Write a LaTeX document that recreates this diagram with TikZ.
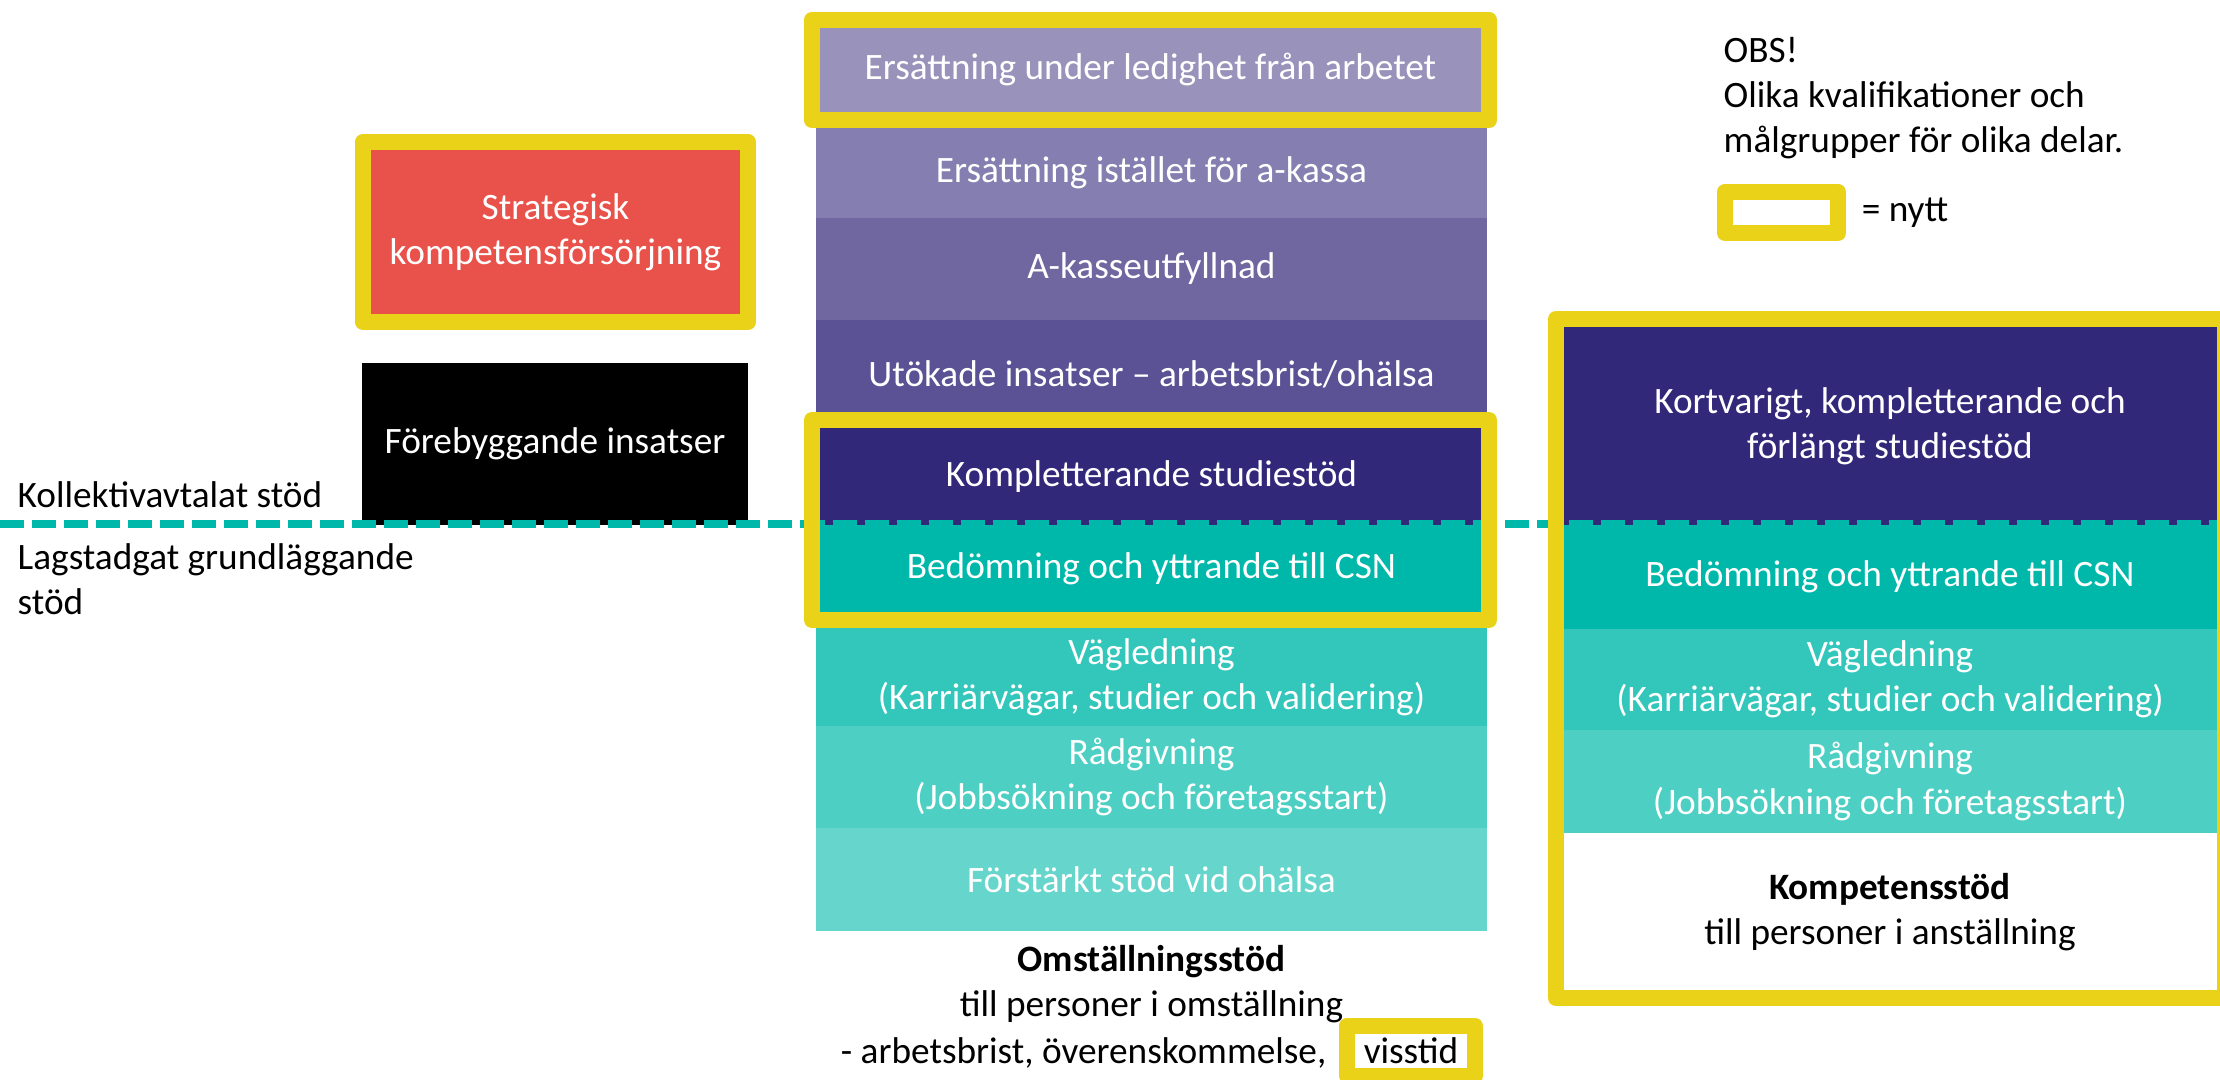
\documentclass[tikz,border=0pt]{standalone}
\usepackage{fontspec}
\setmainfont{Carlito}
\usepackage{tikz}
\usetikzlibrary{positioning}
\usepackage{xcolor}
\definecolor{nyttgul}{HTML}{E9D217}
\definecolor{lila1}{HTML}{9993BB}
\definecolor{lila2}{HTML}{847FB0}
\definecolor{lila3}{HTML}{7067A0}
\definecolor{lila4}{HTML}{5B5295}
\definecolor{indigo}{HTML}{32287A}
\definecolor{turkos1}{HTML}{00B8AA}
\definecolor{turkos2}{HTML}{33C6BB}
\definecolor{turkos3}{HTML}{4DCFC3}
\definecolor{turkos4}{HTML}{66D6CC}
\definecolor{rod}{HTML}{E9524A}

\begin{document}
\begin{tikzpicture}[x=0.01cm, y=-0.01cm, font=\fontsize{10.6}{12.8}\selectfont,
    row/.style={rectangle, inner sep=0pt, text=white, align=center},
    mitt/.style={row, minimum width=6.71cm},
    hoger/.style={row, minimum width=6.54cm},
    newframe/.style={draw=nyttgul, line width=0.16cm, line join=round},
    lbl/.style={inner sep=0pt, align=left},
    avtalslinje/.style={draw=turkos1, line width=0.08cm, dash pattern=on 0.24cm off 0.08cm}]
    \useasboundingbox (0, 0) rectangle (2220, 1080);

    \node[mitt, fill=lila2, minimum height=0.9cm] (akassa) at (1151.5, 173) {Ersättning istället för a-kassa};
    \node[mitt, fill=lila3, minimum height=1.02cm] (utfyllnad) at (1151.5, 269) {A-kasseutfyllnad};
    \node[mitt, fill=lila4, minimum height=1.08cm] (utokade) at (1151.5, 374) {Utökade insatser -- arbetsbrist/ohälsa};
    \node[mitt, fill=indigo, minimum height=0.97cm] (kompl) at (1151.5, 476.5) {Kompletterande studiestöd};
    \node[mitt, fill=turkos1, minimum height=0.88cm] (csn) at (1151.5, 569) {Bedömning och yttrande till CSN};
    \node[mitt, fill=turkos2, minimum height=0.98cm] (vagl) at (1151.5, 677) {Vägledning\\(Karriärvägar, studier och validering)};
    \node[mitt, fill=turkos3, minimum height=1.02cm] (radg) at (1151.5, 777) {Rådgivning\\(Jobbsökning och företagsstart)};
    \node[mitt, fill=turkos4, minimum height=1.03cm] (forstarkt) at (1151.5, 879.5) {Förstärkt stöd vid ohälsa};
    \node[row, newframe, fill=lila1, minimum width=6.77cm, minimum height=1cm] (ledighet) at (1150.5, 70) {Ersättning under ledighet från arbetet};

    \node[lbl, align=center, anchor=base] (omst) at (1151.5, 1017) {\textbf{Omställningsstöd}\\till personer i omställning};
    \node[newframe, fill=white, inner sep=0pt, minimum width=1.28cm, minimum height=0.5cm] (visstid) at (1411, 1051) {visstid};
    \node[lbl, anchor=base east, xshift=-0.12cm] (orsak) at (visstid.base west) {- arbetsbrist, överenskommelse,};

    \node[row, newframe, fill=rod, minimum width=3.85cm, minimum height=1.8cm] (strategisk) at (555.5, 232) {Strategisk\\kompetensförsörjning};
    \node[row, fill=black, minimum width=3.86cm, minimum height=1.62cm] (forebygg) at (555, 444) {Förebyggande insatser};
    \node[lbl, anchor=base west] (kollektiv) at (17, 508) {Kollektivavtalat stöd};
    \node[lbl, anchor=base west] (lagstadgat) at (17, 615) {Lagstadgat grundläggande\\stöd};

    \node[hoger, fill=indigo, minimum height=1.98cm] (kortvarigt) at (1890, 426) {Kortvarigt, kompletterande och\\förlängt studiestöd};
    \node[hoger, fill=turkos1, minimum height=1.04cm] (csnB) at (1890, 577) {Bedömning och yttrande till CSN};
    \node[hoger, fill=turkos2, minimum height=1.01cm] (vaglB) at (1890, 679.5) {Vägledning\\(Karriärvägar, studier och validering)};
    \node[hoger, fill=turkos3, minimum height=1.03cm] (radgB) at (1890, 781.5) {Rådgivning\\(Jobbsökning och företagsstart)};
    \node[lbl, align=center, anchor=base] (kompetens) at (1890, 945) {\textbf{Kompetensstöd}\\till personer i anställning};

    \node[lbl, anchor=base west] (obs) at (1723, 153) {OBS!\\Olika kvalifikationer och\\målgrupper för olika delar.};
    \node[newframe, fill=white, inner sep=0pt, minimum width=1.13cm, minimum height=0.41cm] (nyttruta) at (1781.5, 212.5) {};
    \node[lbl, right=0.15cm of nyttruta] (nytt) {= nytt};

    \draw[avtalslinje] (0, 524) -- (2220, 524);
    \draw[newframe] (812, 420) rectangle (1489, 620);
    \draw[newframe] (1556, 319) rectangle (2225, 998);

\end{tikzpicture}
\end{document}
